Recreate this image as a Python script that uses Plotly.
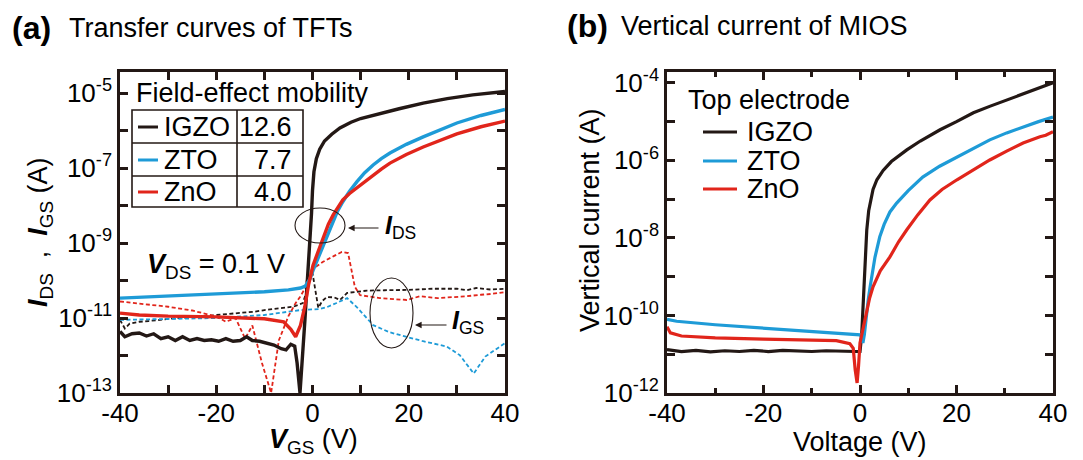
import plotly.graph_objects as go

# ---------------- data (a) transfer curves, log10(current) ----------------
igzo_ids_v = [-40, -39, -37.5, -36, -34.5, -33, -31.5, -30, -28.5, -27, -25.5, -24, -22.5, -21, -19.5, -18,
              -16.5, -15, -13.7, -12.5, -11, -9.5, -8, -6.5, -5.5, -4.5, -3.7, -3.2, -2.6, -1.6, -0.6, -0.2,
              0.0, 0.3, 0.8, 1.5, 2.5, 4, 5.7, 8, 10, 12.6, 15, 18, 23, 28, 33.3, 40]
igzo_ids_l = [-11.36, -11.5, -11.42, -11.4, -11.48, -11.42, -11.55, -11.5, -11.6, -11.5, -11.6, -11.55, -11.6,
              -11.58, -11.62, -11.55, -11.62, -11.6, -11.5, -11.6, -11.62, -11.68, -11.72, -11.82, -11.85,
              -11.7, -11.75, -12.2, -13.0, -11.1, -9.2, -8.2, -7.6, -7.1, -6.75, -6.5, -6.28, -6.1, -5.93,
              -5.78, -5.68, -5.59, -5.51, -5.42, -5.27, -5.15, -5.05, -4.96]

zto_ids_v = [-40, -30, -20, -10, -5, -2.5, -1.5, -0.5, 0.2, 1.0, 2.0, 3.0, 4.3, 5.2, 6.3, 7.7, 9.2, 10.8, 12.6,
             14.3, 16.1, 19.5, 23, 26.5, 30, 35, 40]
zto_ids_l = [-10.47, -10.42, -10.37, -10.3, -10.25, -10.2, -10.15, -9.95, -9.7, -9.45, -9.15, -8.8, -8.44, -8.15,
             -7.9, -7.62, -7.37, -7.13, -6.92, -6.75, -6.6, -6.37, -6.17, -5.98, -5.8, -5.6, -5.44]

zno_ids_v = [-40, -36, -30, -20, -10, -6, -4.5, -3.5, -2.5, -1.6, -0.8, 0.1, 0.9, 2.2, 3.3, 4.3, 5.3, 6.3, 7.7,
             9.2, 10.8, 12.6, 14.3, 16.1, 19.5, 23, 26.5, 30, 35, 40]
zno_ids_l = [-10.87, -10.92, -10.95, -10.97, -11.02, -11.1, -11.3, -11.5, -11.2, -10.7, -10.1, -9.6, -9.32, -8.85,
             -8.5, -8.25, -8.03, -7.85, -7.68, -7.53, -7.36, -7.19, -7.03, -6.87, -6.64, -6.44, -6.26, -6.09,
             -5.9, -5.75]

igzo_igs_v = [-40, -39, -38, -36, -34, -32, -30, -28, -26, -24, -22, -20, -18, -16, -14, -12, -10, -8, -6, -4,
              -2, -1, -0.1, 0.6, 1.2, 2, 3, 4.5, 5.7, 7.2, 9, 11.3, 15, 20, 25, 30, 32, 34, 37, 40]
igzo_igs_l = [-11.05, -11.28, -11.15, -11.1, -11.08, -11.05, -11.01, -11.0, -10.98, -10.97, -10.95, -10.92, -10.9,
              -10.88, -10.85, -10.83, -10.79, -10.76, -10.73, -10.7, -10.6, -10.2, -9.72, -10.3, -10.73, -10.55,
              -10.44, -10.45, -10.52, -10.33, -10.3, -10.27, -10.26, -10.25, -10.22, -10.22, -10.26, -10.2,
              -10.24, -10.22]

zto_igs_v = [-40, -30, -20, -10, -2.6, 1.5, 3, 5, 7.2, 9.2, 12.6, 16, 19.6, 23, 27.9, 30.6, 33.5, 35.9, 40]
zto_igs_l = [-11.05, -11.03, -11.0, -10.92, -10.79, -10.76, -10.71, -10.6, -10.47, -10.71, -11.19, -11.38, -11.5,
             -11.62, -11.76, -11.99, -12.48, -12.03, -11.67]

zno_igs_v = [-40, -35, -30, -25, -20, -18, -16, -14, -12.5, -10.5, -8.6, -7, -5, -3.5, -2.6, -1.5, -0.9, 0.5,
             2.2, 4.4, 6.1, 7.4, 8.8, 9.9, 14, 19.6, 22.3, 26, 30, 32, 35, 37, 40]
zno_igs_l = [-10.56, -10.62, -10.7, -10.8, -10.96, -11.1, -11.0, -11.55, -11.2, -12.2, -13.0, -11.6, -10.95,
             -10.6, -10.44, -10.2, -9.8, -9.65, -9.5, -9.35, -9.24, -9.27, -10.17, -10.39, -10.47, -10.52,
             -10.42, -10.47, -10.44, -10.42, -10.38, -10.36, -10.31]

# ---------------- data (b) vertical current of MIOS ----------------
igzo_v_v = [-40, -37, -34, -31, -28, -25, -22, -19, -16, -13, -10, -7, -4, -1, 0, 0.35, 0.7, 1.0, 1.4, 1.8,
            2.3, 2.7, 3.5, 4.8, 6.5, 8, 9.7, 12.5, 16.6, 20, 23.5, 27, 30.4, 35, 40]
igzo_v_l = [-10.88, -10.93, -10.9, -10.94, -10.91, -10.93, -10.9, -10.93, -10.9, -10.92, -10.93, -10.91, -10.93,
            -10.93, -10.93, -10.5, -9.6, -8.6, -7.8, -7.3, -6.95, -6.75, -6.5, -6.26, -6.03, -5.88, -5.73,
            -5.5, -5.21, -5.0, -4.77, -4.6, -4.44, -4.22, -4.0]

zto_v_v = [-40, -38, -30, -20, -10, -2, 0, 0.3, 0.6, 0.9, 1.3, 1.7, 2.1, 2.6, 3.1, 4.1, 5.0, 6.2, 7.6, 10, 13,
           16.5, 20.1, 23.5, 26.9, 30.4, 33.8, 37, 40]
zto_v_l = [-10.1, -10.15, -10.24, -10.33, -10.42, -10.48, -10.5, -10.55, -10.71, -10.5, -10.0, -9.6, -9.26,
           -8.85, -8.5, -7.97, -7.65, -7.33, -7.1, -6.78, -6.43, -6.15, -5.91, -5.68, -5.47, -5.29, -5.13,
           -5.0, -4.88]

zno_v_v = [-40, -39.3, -37, -30, -20, -10, -4.9, -2.1, -1.4, -1.0, -0.6, -0.3, 0, 0.7, 1.4, 2.0, 2.7, 4.2, 6.2,
           8, 9.7, 12, 14.5, 17, 20.1, 23.5, 26.9, 30.4, 33.8, 37.3, 38.5, 40]
zno_v_l = [-10.29, -10.45, -10.53, -10.58, -10.61, -10.63, -10.65, -10.73, -10.85, -11.4, -11.74, -11.3, -10.71,
           -10.3, -9.86, -9.55, -9.26, -8.85, -8.49, -8.1, -7.79, -7.4, -7.02, -6.75, -6.5, -6.24, -5.99,
           -5.76, -5.55, -5.39, -5.35, -5.26]

materials = ["IGZO", "ZTO", "ZnO"]
mobility = ["12.6", "7.7", "4.0"]

a_yticks = [-13, -12, -11, -10, -9, -8, -7, -6, -5]
b_yticks = [-12, -11, -10, -9, -8, -7, -6, -5, -4]
x_ticks = [-40, -30, -20, -10, 0, 10, 20, 30, 40]

# ---------------- styling ----------------
BLACK = "#231815"
BLUE = "#1E9BD7"
RED = "#E1251B"
colors = [BLACK, BLUE, RED]
FONT = "Liberation Sans, Arial, sans-serif"
FS = 27

W, H = 1083, 460
ML, MR, MT, MB = 120, 30, 72, 67
PW, PH = W - ML - MR, H - MT - MB


def px(x):
    return (x - ML) / PW


def py(y):
    return (H - MB - y) / PH


def pw(v):
    return [10 ** t for t in v]


fig = go.Figure()

solid_a = [(igzo_ids_v, igzo_ids_l), (zto_ids_v, zto_ids_l), (zno_ids_v, zno_ids_l)]
dash_a = [(igzo_igs_v, igzo_igs_l), (zto_igs_v, zto_igs_l), (zno_igs_v, zno_igs_l)]
for (vx, vl), c, n in zip(dash_a, colors, materials):
    fig.add_trace(go.Scatter(x=vx, y=pw(vl), mode="lines", name=n + " I_GS",
                             line=dict(color=c, width=1.8, dash="4px,2.5px"), xaxis="x", yaxis="y"))
for (vx, vl), c, n in zip(solid_a, colors, materials):
    fig.add_trace(go.Scatter(x=vx, y=pw(vl), mode="lines", name=n + " I_DS",
                             line=dict(color=c, width=3.4), xaxis="x", yaxis="y"))

solid_b = [(igzo_v_v, igzo_v_l), (zto_v_v, zto_v_l), (zno_v_v, zno_v_l)]
for (vx, vl), c, n in zip(solid_b, colors, materials):
    fig.add_trace(go.Scatter(x=vx, y=pw(vl), mode="lines", name=n,
                             line=dict(color=c, width=3.2), xaxis="x2", yaxis="y2"))


def sup_labels(vals, step_ok):
    return ["10<sup>%d</sup>" % v if step_ok(v) else "" for v in vals]


axis_common = dict(showline=True, mirror="allticks", linewidth=2.6, linecolor=BLACK,
                   ticks="inside", ticklen=8, tickwidth=2.6, tickcolor=BLACK,
                   showgrid=False, zeroline=False,
                   tickfont=dict(family=FONT, size=26, color="black"))

xlabels = ["%d" % v if v % 20 == 0 else "" for v in x_ticks]
d1 = [0, px(505)]
d2 = [px(667), 1]

fig.update_layout(
    width=W, height=H, margin=dict(l=ML, r=MR, t=MT, b=MB),
    paper_bgcolor="white", plot_bgcolor="white", showlegend=False,
    font=dict(family=FONT, color="black"),
    xaxis=dict(domain=d1, range=[-40, 40], tickvals=x_ticks, ticktext=xlabels, anchor="y",
               ticklabelstandoff=-5, **axis_common),
    yaxis=dict(domain=[0, 1], type="log", range=[-13, -4.44], tickvals=[10 ** v for v in a_yticks],
               ticktext=sup_labels(a_yticks, lambda v: v % 2 != 0), anchor="x", **axis_common),
    xaxis2=dict(domain=d2, range=[-40, 40], tickvals=[-40, -20, 0, 20, 40],
                ticktext=["-40", "-20", "0", "20", "40"], anchor="y2", ticklabelstandoff=-5,
                minor=dict(tickvals=[-30, -10, 10, 30], ticklen=5, tickwidth=2.6, tickcolor=BLACK,
                           ticks="inside", showgrid=False), **axis_common),
    yaxis2=dict(domain=[0, 1], type="log", range=[-12, -3.72], tickvals=[10 ** v for v in b_yticks],
                ticktext=sup_labels(b_yticks, lambda v: v % 2 == 0), anchor="x2", **axis_common),
)

ann = []
shapes = []


def text(x, y, t, size=FS, xanchor="left", yanchor="middle", angle=0):
    ann.append(dict(x=px(x), y=py(y), xref="paper", yref="paper", text=t, showarrow=False,
                    xanchor=xanchor, yanchor=yanchor, textangle=angle,
                    font=dict(family=FONT, size=size, color="black")))


# panel titles
text(10, 28, "<b>(a)</b>", size=32)
text(67, 28, "Transfer curves of TFTs", size=FS)
text(565, 26, "<b>(b)</b>", size=32)
text(619, 26, "Vertical current of MIOS", size=FS)

# axis titles
text(40, 232, "<b><i>I</i></b><sub>DS</sub>  ,  <b><i>I</i></b><sub>GS</sub> (A)", size=FS,
     xanchor="center", angle=-90)
text(313, 441, "<b><i>V</i></b><sub>GS</sub> (V)", size=FS, xanchor="center")
text(590, 220, "Vertical current (A)", size=FS, xanchor="center", angle=-90)
text(860, 442, "Voltage (V)", size=FS, xanchor="center")

# field-effect mobility table
text(134, 93, "Field-effect mobility", size=FS)
shapes.append(dict(type="rect", xref="paper", yref="paper", x0=px(132), x1=px(303), y0=py(110), y1=py(207),
                   line=dict(color=BLACK, width=1.6)))
shapes.append(dict(type="line", xref="paper", yref="paper", x0=px(237), x1=px(237), y0=py(110), y1=py(207),
                   line=dict(color=BLACK, width=1.6)))
for yy in [143, 176]:
    shapes.append(dict(type="line", xref="paper", yref="paper", x0=px(132), x1=px(303), y0=py(yy), y1=py(yy),
                       line=dict(color=BLACK, width=1.6)))
for i, (m, mu, c) in enumerate(zip(materials, mobility, colors)):
    yc = [127, 160, 192][i]
    shapes.append(dict(type="line", xref="paper", yref="paper", x0=px(138), x1=px(158), y0=py(yc), y1=py(yc),
                       line=dict(color=c, width=3)))
    text(162, yc, m, size=FS)
    text(294, yc, mu, size=FS, xanchor="right")

# V_DS label
text(145, 266, "<b><i>V</i></b><sub>DS</sub> = 0.1 V", size=FS)

# ellipses and arrows
shapes.append(dict(type="circle", xref="paper", yref="paper", x0=px(295), x1=px(345), y0=py(208), y1=py(243),
                   line=dict(color=BLACK, width=1.1)))
shapes.append(dict(type="circle", xref="paper", yref="paper", x0=px(370), x1=px(413), y0=py(278), y1=py(348),
                   line=dict(color=BLACK, width=1.1)))
for (tx, ty, length) in [(348, 228, 32), (415, 325, 33)]:
    ann.append(dict(x=px(tx), y=py(ty), xref="paper", yref="paper", text="", showarrow=True,
                    ax=length, ay=0, arrowhead=2, arrowsize=1.2, arrowwidth=1.1, arrowcolor=BLACK,
                    standoff=0))
text(383, 227, "<b><i>I</i></b><sub>DS</sub>", size=25)
text(450, 322, "<b><i>I</i></b><sub>GS</sub>", size=25)

# right legend
text(686, 100, "Top electrode", size=FS)
for i, (m, c) in enumerate(zip(materials, colors)):
    yc = [132, 161, 189][i]
    shapes.append(dict(type="line", xref="paper", yref="paper", x0=px(703), x1=px(737), y0=py(yc), y1=py(yc),
                       line=dict(color=c, width=3)))
    text(745, yc, m, size=FS)

fig.update_layout(annotations=ann, shapes=shapes)
fig.write_html("out.html")
